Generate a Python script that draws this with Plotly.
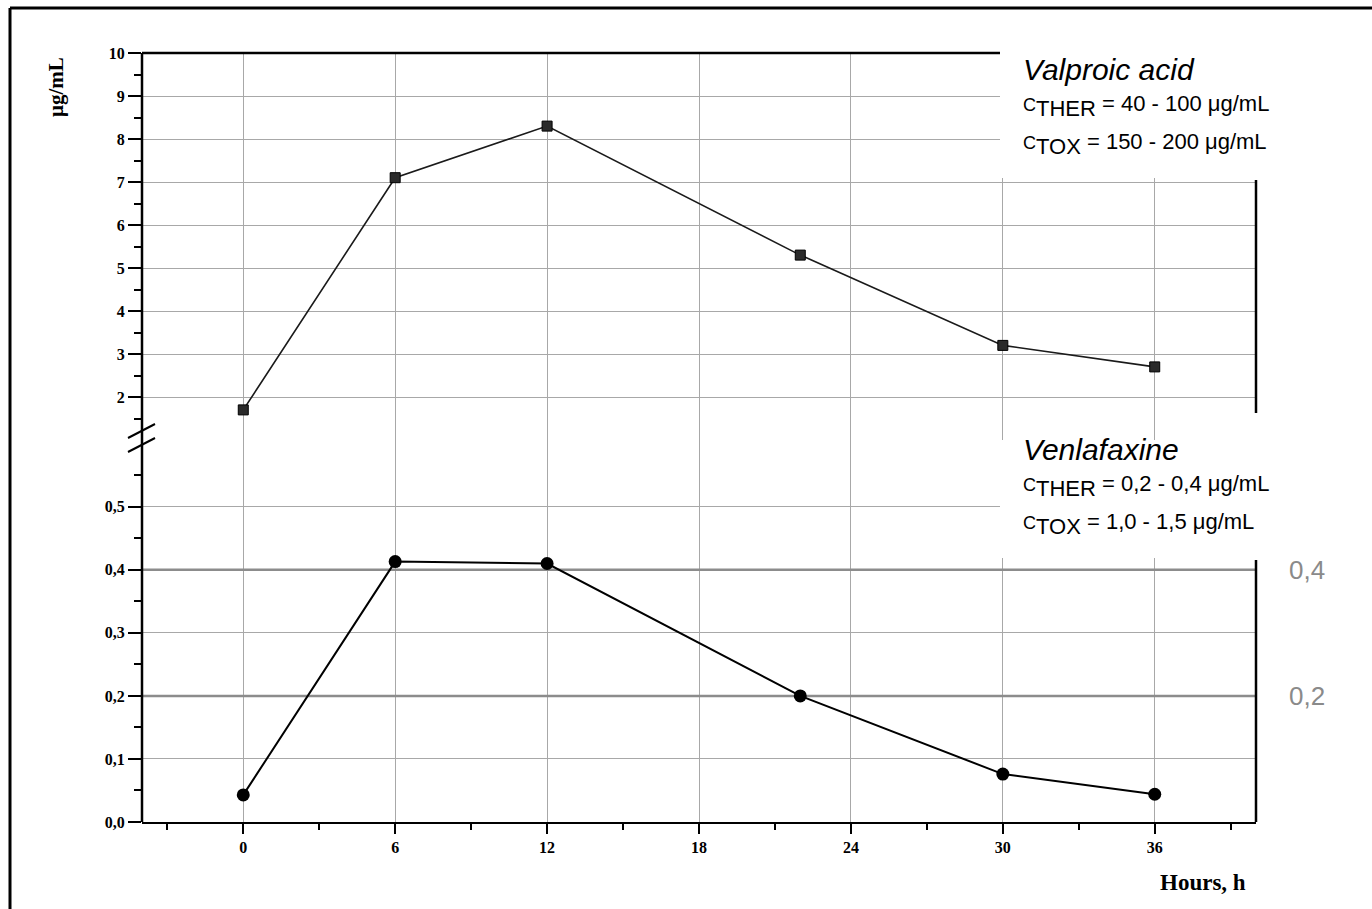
import plotly.graph_objects as go

# ---- data ----
hours = [0, 6, 12, 22, 30, 36]
valproic = [1.7, 7.1, 8.3, 5.3, 3.2, 2.7]
venlafaxine = [0.043, 0.413, 0.41, 0.2, 0.076, 0.044]

x_ticks = [0, 6, 12, 18, 24, 30, 36]
x_minor = [-3, 3, 9, 15, 21, 27, 33, 39]
top_ticks = [2, 3, 4, 5, 6, 7, 8, 9, 10]
top_minor = [1.5, 2.5, 3.5, 4.5, 5.5, 6.5, 7.5, 8.5, 9.5]
bot_ticks = [0.0, 0.1, 0.2, 0.3, 0.4, 0.5]
bot_ticktext = ["0,0", "0,1", "0,2", "0,3", "0,4", "0,5"]
bot_minor = [0.05, 0.15, 0.25, 0.35, 0.45, 0.55]
ther_levels = [0.2, 0.4]
ther_labels = ["0,2", "0,4"]

# ---- geometry (pixels) ----
W, H = 1372, 909
L, R, T, B = 142, 1256, 53, 822
pw, ph = R - L, B - T


def px(x):
    return (x - L) / pw


def py(y):
    return (B - y) / ph


split = py(450)

tickfont = dict(family="Liberation Serif", size=16, color="black", weight="bold")
gridc = "#a8a8a8"

fig = go.Figure()
fig.add_trace(go.Scatter(
    x=hours, y=valproic, xaxis="x", yaxis="y2", mode="lines+markers",
    line=dict(color="#1a1a1a", width=1.6),
    marker=dict(symbol="square", size=10, color="#2a2a2a", line=dict(color="black", width=1)),
    showlegend=False, name="Valproic acid"))
fig.add_trace(go.Scatter(
    x=hours, y=venlafaxine, xaxis="x", yaxis="y", mode="lines+markers",
    line=dict(color="black", width=2),
    marker=dict(symbol="circle", size=13, color="black"),
    showlegend=False, name="Venlafaxine"))

fig.update_layout(
    width=W, height=H,
    margin=dict(l=L, r=W - R, t=T, b=H - B, pad=0),
    paper_bgcolor="white", plot_bgcolor="white",
    xaxis=dict(range=[-4, 40], domain=[0, 1], anchor="y",
               tickvals=x_ticks, ticks="outside", ticklen=10, tickwidth=2, tickcolor="black",
               showline=True, linewidth=2, linecolor="black",
               showgrid=True, gridcolor=gridc, gridwidth=1, zeroline=False,
               tickfont=tickfont,
               minor=dict(tickvals=x_minor, ticks="outside", ticklen=6, tickwidth=2,
                          tickcolor="black", showgrid=False)),
    yaxis=dict(range=[0, 0.59], domain=[0, split], anchor="x",
               tickvals=bot_ticks, ticktext=bot_ticktext,
               ticks="outside", ticklen=13, tickwidth=2, tickcolor="black",
               showline=False, showgrid=True, gridcolor=gridc, gridwidth=1, zeroline=False,
               tickfont=tickfont,
               minor=dict(tickvals=bot_minor, ticks="outside", ticklen=7, tickwidth=2,
                          tickcolor="black", showgrid=False)),
    yaxis2=dict(range=[2 - (450 - 397) / 43.0, 10], domain=[split, 1], anchor="x",
                tickvals=top_ticks, ticks="outside", ticklen=13, tickwidth=2, tickcolor="black",
                showline=False, showgrid=True, gridcolor=gridc, gridwidth=1, zeroline=False,
                tickfont=tickfont,
                minor=dict(tickvals=top_minor, ticks="outside", ticklen=7, tickwidth=2,
                           tickcolor="black", showgrid=False)),
)

shapes = []
# therapeutic level lines
for lv in ther_levels:
    shapes.append(dict(type="line", xref="x", yref="y", x0=-4, x1=40, y0=lv, y1=lv,
                       line=dict(color="#8c8c8c", width=2.5), layer="between"))
# white boxes behind the text blocks
shapes.append(dict(type="rect", xref="paper", yref="paper", x0=px(1000), x1=1.0,
                   y0=py(178), y1=py(40), fillcolor="white", line=dict(width=0), layer="above"))
shapes.append(dict(type="rect", xref="paper", yref="paper", x0=px(1000), x1=1.0,
                   y0=py(558), y1=py(440), fillcolor="white", line=dict(width=0), layer="above"))
# frame lines
blk = dict(color="black", width=2.5)
shapes += [
    dict(type="line", xref="paper", yref="paper", x0=0, x1=0, y0=0, y1=1, line=blk, layer="above"),
    dict(type="line", xref="paper", yref="paper", x0=0, x1=px(1000), y0=1, y1=1, line=blk, layer="above"),
    dict(type="line", xref="paper", yref="paper", x0=1, x1=1, y0=py(413), y1=py(180), line=blk, layer="above"),
    dict(type="line", xref="paper", yref="paper", x0=1, x1=1, y0=0, y1=py(560), line=blk, layer="above"),
    # axis break slashes
    dict(type="line", xref="paper", yref="paper", x0=px(128), x1=px(155), y0=py(438), y1=py(424),
         line=dict(color="black", width=2), layer="above"),
    dict(type="line", xref="paper", yref="paper", x0=px(128), x1=px(155), y0=py(452), y1=py(438),
         line=dict(color="black", width=2), layer="above"),
    # outer figure frame (left and top)
    dict(type="line", xref="paper", yref="paper", x0=px(10), x1=px(10), y0=py(909), y1=py(8),
         line=dict(color="black", width=3), layer="above"),
    dict(type="line", xref="paper", yref="paper", x0=px(10), x1=px(1372), y0=py(8), y1=py(8),
         line=dict(color="black", width=3), layer="above"),
]
fig.update_layout(shapes=shapes)

sans = "Liberation Sans"
big = dict(family=sans, size=30, color="black")
mid = dict(family=sans, size=22, color="black")


def cline(sub, rest):
    return ('<span style="font-size:18px">C</span><sub><span style="font-size:22px">'
            + sub + '</span></sub> = ' + rest)


ann = [
    dict(x=px(1021), y=py(70), text="<i>Valproic acid</i>", font=big),
    dict(x=px(1021), y=py(106), text=cline("THER", "40 - 100 μg/mL"), font=mid),
    dict(x=px(1021), y=py(144), text=cline("TOX", "150 - 200 μg/mL"), font=mid),
    dict(x=px(1021), y=py(449), text="<i>Venlafaxine</i>", font=big),
    dict(x=px(1021), y=py(486), text=cline("THER", "0,2 - 0,4 μg/mL"), font=mid),
    dict(x=px(1021), y=py(524), text=cline("TOX", "1,0 - 1,5 μg/mL"), font=mid),
]
annotations = []
for a in ann:
    a.update(xref="paper", yref="paper", xanchor="left", yanchor="middle", showarrow=False)
    annotations.append(a)
for lv, lab in zip(ther_levels, ther_labels):
    annotations.append(dict(x=px(1287), y=lv, xref="paper", yref="y", text=lab, showarrow=False,
                            xanchor="left", yanchor="middle",
                            font=dict(family=sans, size=26, color="#8a8a8a")))
annotations.append(dict(x=px(56), y=py(87), xref="paper", yref="paper", text="μg/mL",
                        textangle=-90, showarrow=False, xanchor="center", yanchor="middle",
                        font=dict(family="Liberation Serif", size=21, color="black", weight="bold")))
annotations.append(dict(x=px(1203), y=py(882), xref="paper", yref="paper", text="Hours, h",
                        showarrow=False, xanchor="center", yanchor="middle",
                        font=dict(family="Liberation Serif", size=23, color="black", weight="bold")))
fig.update_layout(annotations=annotations)

fig.write_html("out.html", config={"displayModeBar": False},
               post_script="document.body.style.margin='0';document.body.style.overflow='hidden';")
